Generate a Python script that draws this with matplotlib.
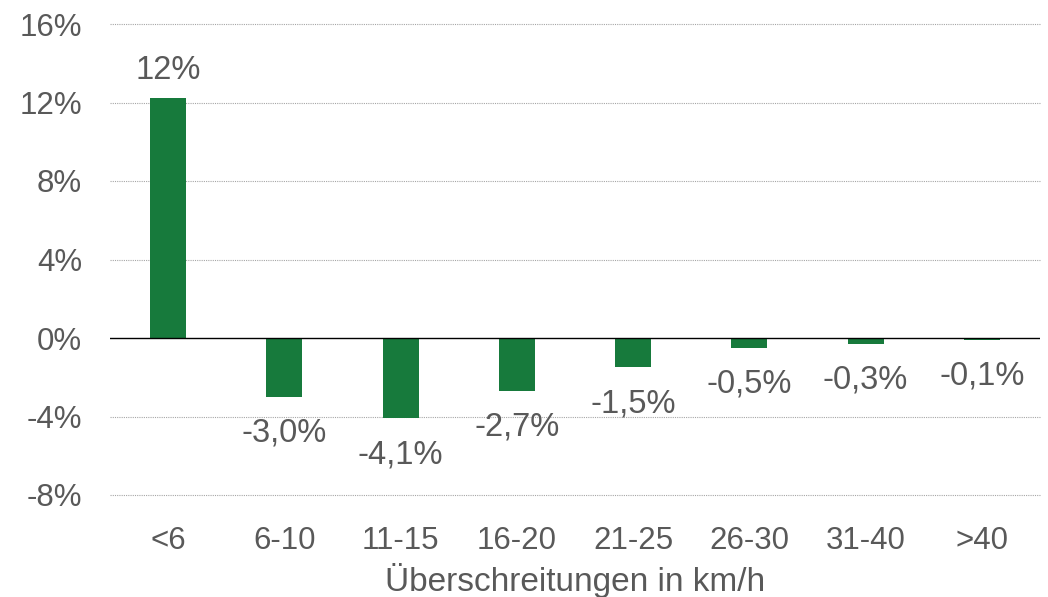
import matplotlib
matplotlib.use("Agg")
import matplotlib.pyplot as plt

categories = ["<6", "6-10", "11-15", "16-20", "21-25", "26-30", "31-40", ">40"]
values = [12.25, -3.0, -4.1, -2.7, -1.5, -0.5, -0.3, -0.1]
value_labels = ["12%", "-3,0%", "-4,1%", "-2,7%", "-1,5%", "-0,5%", "-0,3%", "-0,1%"]
yticks = [-8, -4, 0, 4, 8, 12, 16]
ytick_labels = ["-8%", "-4%", "0%", "4%", "8%", "12%", "16%"]
xlabel = "Überschreitungen in km/h"

plt.rcParams["font.family"] = ["Liberation Sans", "DejaVu Sans"]

GREEN = "#177A3C"
TEXT = "#595959"
FS = 22.5

fig = plt.figure(figsize=(10.48, 5.97), dpi=100)
ax = fig.add_axes([110 / 1048, 1 - 495 / 597, 930 / 1048, 471 / 597])

x = list(range(len(categories)))
ax.bar(x, values, width=0.31, color=GREEN, zorder=3)

for xi, v, lab in zip(x, values, value_labels):
    off = 8 if v >= 0 else -15
    ax.annotate(lab, (xi, v), xytext=(0, off), textcoords="offset points",
                ha="center", va="bottom" if v >= 0 else "top",
                fontsize=23.5, color=TEXT)

ax.set_xlim(-0.5, len(categories) - 0.5)
ax.set_ylim(-8, 16)
ax.set_yticks(yticks)
ax.set_yticklabels(ytick_labels)
ax.set_xticks(x)
ax.set_xticklabels(categories)
ax.tick_params(axis="both", length=0, labelsize=FS, colors=TEXT)
ax.tick_params(axis="x", pad=22)
ax.tick_params(axis="y", pad=20)
ax.set_xlabel(xlabel, fontsize=24, color=TEXT, labelpad=5)

for t in yticks:
    if t != 0:
        ax.axhline(t, color="#A6A6A6", linewidth=0.8, linestyle=(0, (1, 1)),
                   zorder=1, clip_on=False)
ax.axhline(0, color="#000000", linewidth=1.0, zorder=4)

for s in ax.spines.values():
    s.set_visible(False)

fig.savefig("out.png", dpi=100)
